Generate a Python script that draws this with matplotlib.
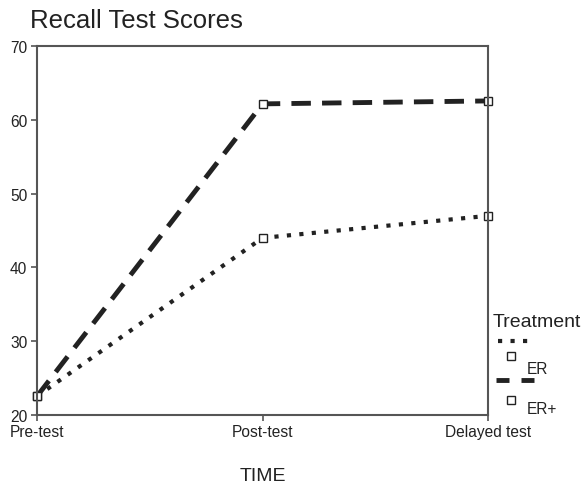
import matplotlib.pyplot as plt
from matplotlib.lines import Line2D

plt.rcParams['font.family'] = ['Liberation Sans', 'DejaVu Sans']

# Data
times = ['Pre-test', 'Post-test', 'Delayed test']
er_scores = [22.5, 44.0, 47.0]
erplus_scores = [22.5, 62.2, 62.6]
yticks = [20, 30, 40, 50, 60, 70]

fig = plt.figure(figsize=(5.82, 4.89), dpi=100)
ax = fig.add_axes([0.0636, 0.150, 0.775, 0.753])

pos = list(range(len(times)))
ax.plot(pos, er_scores, color='#222222', lw=3, linestyle=(0, (1, 2)),
        marker='s', ms=6, mfc='white', mec='#222222', mew=1, clip_on=False)
ax.plot(pos, erplus_scores, color='#222222', lw=3.5, linestyle=(0, (4, 2.3)),
        marker='s', ms=6, mfc='white', mec='#222222', mew=1, clip_on=False)

ax.set_xlim(0, 2)
ax.set_ylim(20, 70)
ax.set_xticks(pos)
ax.set_xticklabels(times, fontsize=11.2, color='#222222')
ax.set_yticks(yticks)
ax.set_yticklabels([str(v) for v in yticks], fontsize=11.2, color='#222222')
ax.tick_params(direction='out', length=4, width=1.2, color='#555555', pad=3)
for s in ax.spines.values():
    s.set_color('#555555')
    s.set_linewidth(1.5)

ax.set_xlabel('TIME', fontsize=14, color='#222222', labelpad=20)
fig.text(0.052, 0.958, 'Recall Test Scores', fontsize=18.5, color='#222222',
         va='center', ha='left')

# Legend drawn by hand to follow the original layout
fig.text(0.847, 0.341, 'Treatment', fontsize=14, color='#222222', va='center')
fig.add_artist(Line2D([0.855, 0.912], [0.301, 0.301], transform=fig.transFigure,
                      color='#222222', lw=3, linestyle=(0, (1, 2))))
fig.add_artist(Line2D([0.878], [0.270], transform=fig.transFigure, marker='s',
                      ms=6, mfc='white', mec='#222222', mew=1, lw=0))
fig.text(0.905, 0.245, 'ER', fontsize=11.2, color='#222222', va='center')
for x0, x1 in [(0.853, 0.874), (0.895, 0.917)]:
    fig.add_artist(Line2D([x0, x1], [0.221, 0.221], transform=fig.transFigure,
                          color='#222222', lw=3.5, solid_capstyle='butt'))
fig.add_artist(Line2D([0.878], [0.180], transform=fig.transFigure, marker='s',
                      ms=6, mfc='white', mec='#222222', mew=1, lw=0))
fig.text(0.905, 0.162, 'ER+', fontsize=11.2, color='#222222', va='center')

plt.savefig('out.png', dpi=100)
